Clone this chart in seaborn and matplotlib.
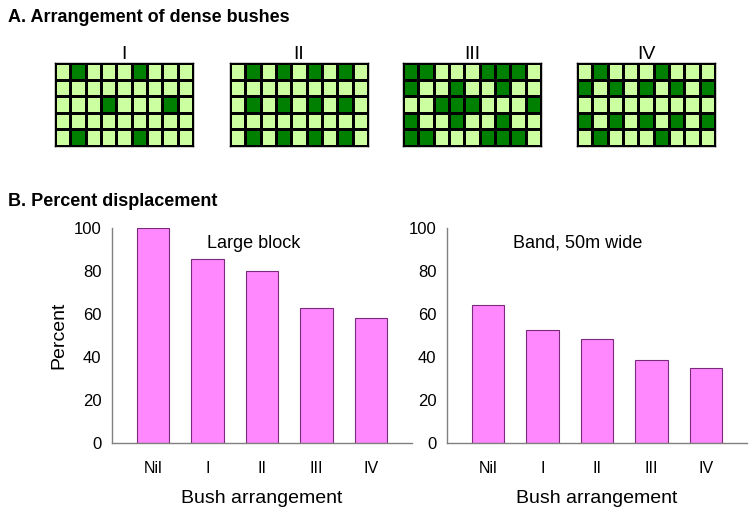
import numpy as np
import pandas as pd
import matplotlib
matplotlib.use("Agg")
import matplotlib.pyplot as plt
from matplotlib.colors import ListedColormap
import seaborn as sns

# ---- data ----
categories = ["Nil", "I", "II", "III", "IV"]
large_block = [100, 85.5, 80, 62.8, 58]
band_50m = [64, 52.7, 48.5, 38.7, 35]

grid_names = ["I", "II", "III", "IV"]
grid_I = [
    [0, 1, 0, 0, 0, 1, 0, 0, 0],
    [0, 0, 0, 0, 0, 0, 0, 0, 0],
    [0, 0, 0, 1, 0, 0, 0, 1, 0],
    [0, 0, 0, 0, 0, 0, 0, 0, 0],
    [0, 1, 0, 0, 0, 1, 0, 0, 0],
]
grid_II = [
    [0, 1, 0, 1, 0, 1, 0, 1, 0],
    [0, 0, 0, 0, 0, 0, 0, 0, 0],
    [0, 1, 0, 1, 0, 1, 0, 1, 0],
    [0, 0, 0, 0, 0, 0, 0, 0, 0],
    [0, 1, 0, 1, 0, 1, 0, 1, 0],
]
grid_III = [
    [1, 1, 0, 0, 0, 1, 1, 1, 0],
    [1, 0, 0, 1, 0, 0, 1, 0, 0],
    [0, 0, 1, 1, 1, 0, 0, 0, 1],
    [1, 0, 0, 1, 0, 0, 1, 0, 0],
    [1, 1, 0, 0, 0, 1, 1, 1, 0],
]
grid_IV = [
    [0, 1, 0, 0, 0, 1, 0, 0, 0],
    [1, 0, 1, 0, 1, 0, 1, 0, 1],
    [0, 0, 0, 0, 0, 0, 0, 0, 0],
    [1, 0, 1, 0, 1, 0, 1, 0, 1],
    [0, 1, 0, 0, 0, 1, 0, 0, 0],
]
grids = [grid_I, grid_II, grid_III, grid_IV]

# ---- style ----
sns.set_style("white")
plt.rcParams["font.family"] = ["Liberation Sans", "DejaVu Sans"]
plt.rcParams["text.color"] = "black"
plt.rcParams["axes.labelcolor"] = "black"
plt.rcParams["xtick.color"] = "black"
plt.rcParams["ytick.color"] = "black"

W, H = 752, 513
fig = plt.figure(figsize=(W / 100, H / 100), dpi=100)

def fx(px):
    return px / W

def fy(py):
    return 1 - py / H

light = "#CCFF9F"
dark = "#008000"
cmap = ListedColormap([light, dark])

fig.text(fx(8), fy(17), "A. Arrangement of dense bushes", fontsize=13,
         fontweight="bold", va="center", ha="left")
fig.text(fx(8), fy(201), "B. Percent displacement", fontsize=13,
         fontweight="bold", va="center", ha="left")

grid_lefts = [55, 230, 403, 577]
for name, g, gl in zip(grid_names, grids, grid_lefts):
    ax = fig.add_axes([fx(gl), fy(146), 138 / W, 83 / H])
    sns.heatmap(np.array(g), ax=ax, cmap=cmap, vmin=0, vmax=1, cbar=False,
                linewidths=0.8, linecolor="black", xticklabels=False,
                yticklabels=False)
    for s in ax.spines.values():
        s.set_visible(True)
        s.set_color("black")
        s.set_linewidth(1.0)
    ax.set_title(name, fontsize=14, pad=3)

bar_color = "#FF88FF"
edge_color = "#7A2A7A"

panels = [
    (112, large_block, "Large block", 1.85),
    (447, band_50m, "Band, 50m wide", 1.65),
]
for i, (left, vals, label, tx) in enumerate(panels):
    ax = fig.add_axes([fx(left), fy(443), 300 / W, 215 / H])
    df = pd.DataFrame({"cat": categories, "val": vals})
    sns.barplot(data=df, x="cat", y="val", ax=ax, color=bar_color,
                saturation=1, width=0.6, edgecolor=edge_color, linewidth=0.8)
    ax.set_xlim(-0.75, 4.75)
    ax.set_ylim(0, 100)
    ax.set_yticks([0, 20, 40, 60, 80, 100])
    sns.despine(ax=ax)
    for s in ["left", "bottom"]:
        ax.spines[s].set_color("#808080")
        ax.spines[s].set_linewidth(1.0)
    ax.tick_params(axis="both", which="both", direction="out", length=4,
                   color="#808080", labelsize=12, labelcolor="black")
    ax.tick_params(axis="x", pad=9, labelsize=11.5)
    ax.set_xlabel("Bush arrangement", fontsize=14, labelpad=10)
    if i == 0:
        ax.set_ylabel("Percent", fontsize=14, labelpad=5)
    else:
        ax.set_ylabel("")
    ax.text(tx, 93, label, fontsize=13, ha="center", va="center")

fig.savefig("out.png", dpi=100)
